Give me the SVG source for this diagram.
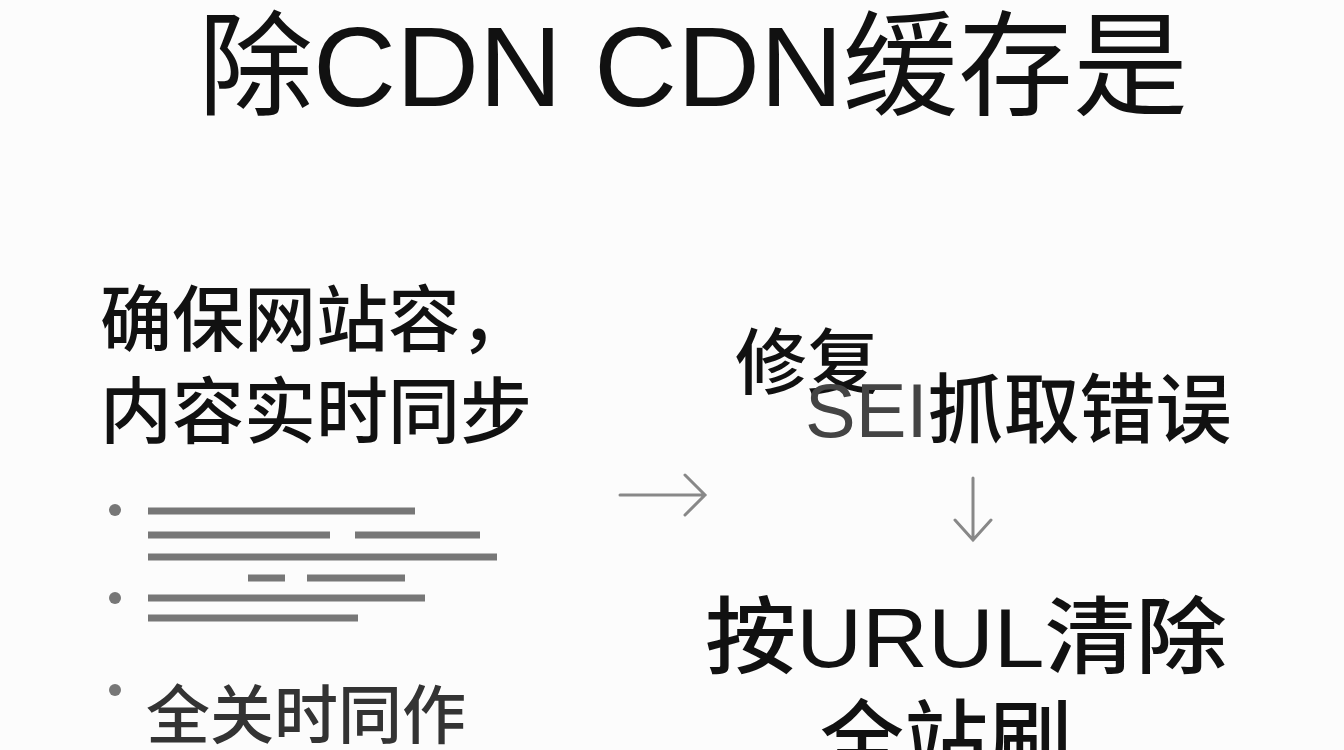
<svg xmlns="http://www.w3.org/2000/svg" width="1344" height="750" viewBox="0 0 1344 750">
<style>
text{font-family:"Liberation Sans","Noto Sans CJK SC",sans-serif;fill:#111}
.b{font-weight:500}
.ln{stroke:#777;stroke-width:7;stroke-linecap:butt}
.ar{stroke:#888;stroke-width:3;fill:none;stroke-linecap:round}
</style>
<rect width="1344" height="750" fill="#fcfcfc"/>
<g id="title"><text x="198" y="106" font-size="114" textLength="990" lengthAdjust="spacingAndGlyphs">除CDN CDN缓存是</text></g>
<g id="left">
<text x="100" y="345" font-size="72" class="b">确保网站容，</text>
<text x="100" y="437" font-size="72" class="b">内容实时同步</text>
<g fill="#777"><circle cx="115" cy="510" r="6"/><circle cx="115" cy="598" r="6"/><circle cx="115" cy="690" r="6"/></g>
<path class="ln" d="M148 511H415M148 535H330M355 535H480M148 557H497M248 578H285M307 578H405M148 598H425M148 618H358"/>
<text x="146" y="738" font-size="64" style="fill:#333" class="b">全关时同作</text>
</g>
<g id="connectors">
<path class="ar" d="M620 495H705M685 475L705 495L685 515"/>
<path class="ar" d="M973 478V540M955 520L973 540L991 520"/>
</g>
<g id="right1">
<text x="735" y="388" font-size="72" class="b">修复</text>
<text x="805" y="437" font-size="76"><tspan style="fill:#444">SEI</tspan><tspan class="b">抓取错误</tspan></text>
</g>
<g id="right2">
<text x="705" y="667" font-size="84" class="b" textLength="522" lengthAdjust="spacingAndGlyphs">按URUL清除</text>
<text x="820" y="770" font-size="84" class="b">全站刷</text>
</g>
</svg>
